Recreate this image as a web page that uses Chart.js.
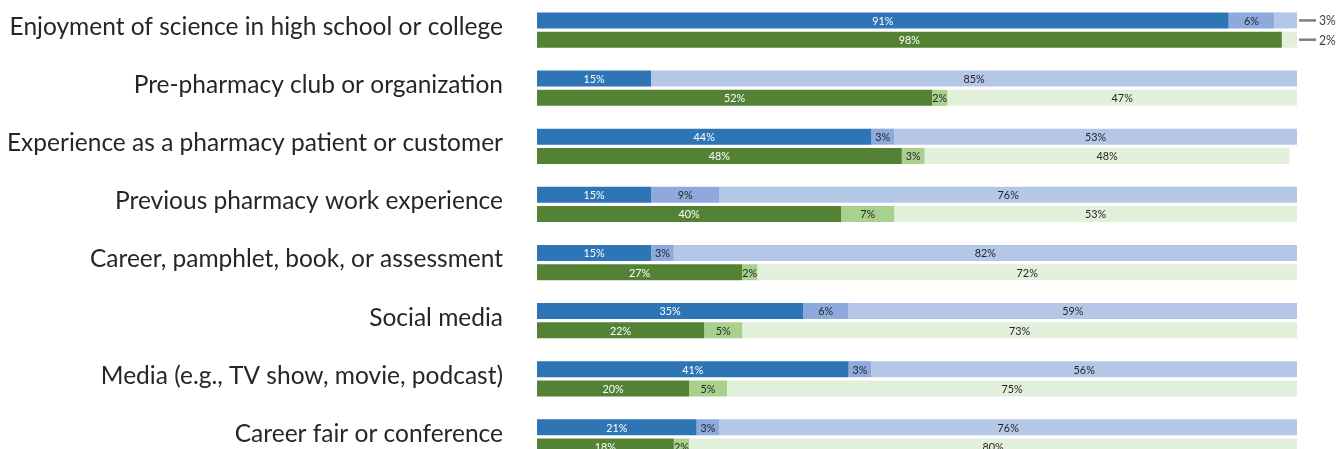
<!DOCTYPE html>
<html>
<head>
<meta charset="utf-8">
<script src="https://cdn.jsdelivr.net/npm/chart.js@4/dist/chart.umd.min.js"></script>
<style>
  html, body { margin: 0; padding: 0; background: #ffffff; overflow: hidden; }
  #wrap { position: relative; width: 1340px; height: 466px; }
</style>
</head>
<body>
<div id="wrap"><canvas id="chart"></canvas></div>
<script>
// Influences on interest in pharmacy, percentage of respondents
const categories = [
  'Enjoyment of science in high school or college',
  'Pre-pharmacy club or organization',
  'Experience as a pharmacy patient or customer',
  'Previous pharmacy work experience',
  'Career, pamphlet, book, or assessment',
  'Social media',
  'Media (e.g., TV show, movie, podcast)',
  'Career fair or conference'
];

// First group (blue bars)
const blueMain = [91, 15, 44, 15, 15, 35, 41, 21];
const blueMid  = [6, 0, 3, 9, 3, 6, 3, 3];
const blueRest = [3, 85, 53, 76, 82, 59, 56, 76];

// Second group (green bars)
const greenMain = [98, 52, 48, 40, 27, 22, 20, 18];
const greenMid  = [0, 2, 3, 7, 2, 5, 5, 2];
const greenRest = [2, 47, 48, 53, 72, 73, 75, 80];

const BLUE = ['#2e75b6', '#8eaadc', '#b4c7e7'];
const GREEN = ['#548235', '#a9d18e', '#e2efda'];

const LABEL_FONT = 'Lato, "Open Sans", sans-serif';

function ds(label, data, color, stack, textColor) {
  return {
    label, data, stack,
    backgroundColor: color,
    borderWidth: 0,
    categoryPercentage: 0.664,
    barPercentage: 0.83,
    textColor
  };
}

// Narrow text: the value labels are drawn slightly condensed.
function narrowText(ctx, txt, x, y, align, squeeze) {
  ctx.save();
  ctx.translate(x, y);
  ctx.scale(squeeze, 1);
  ctx.textAlign = align;
  ctx.fillText(txt, 0, 0);
  ctx.restore();
}

// Draws the percentage inside each segment; a segment too thin to hold its
// text at the end of the bar gets a leader line and an outside label.
const segmentLabels = {
  id: 'segmentLabels',
  afterDatasetsDraw(chart) {
    const ctx = chart.ctx;
    const area = chart.chartArea;
    ctx.save();
    ctx.textBaseline = 'middle';
    chart.data.datasets.forEach((d, di) => {
      const meta = chart.getDatasetMeta(di);
      const isLast = di === 2 || di === 5;
      meta.data.forEach((el, i) => {
        const v = d.data[i];
        if (!v) return;
        const x0 = Math.min(el.base, el.x);
        const x1 = Math.min(Math.max(el.base, el.x), area.right);
        const w = x1 - x0;
        const txt = v + '%';
        if (isLast && w < 30) {
          ctx.strokeStyle = '#7f7f7f';
          ctx.lineWidth = 2.5;
          ctx.beginPath();
          ctx.moveTo(area.right + 2, el.y);
          ctx.lineTo(area.right + 19, el.y);
          ctx.stroke();
          ctx.fillStyle = '#404040';
          ctx.font = '13.5px ' + LABEL_FONT;
          narrowText(ctx, txt, area.right + 22, el.y + 0.5, 'left', 0.9);
          return;
        }
        ctx.fillStyle = d.textColor;
        ctx.font = '12px ' + LABEL_FONT;
        narrowText(ctx, txt, (x0 + x1) / 2, el.y + 0.5, 'center', 0.9);
      });
    });
    ctx.restore();
  }
};

new Chart(document.getElementById('chart'), {
  type: 'bar',
  data: {
    labels: categories,
    datasets: [
      ds('Blue main', blueMain, BLUE[0], 'blue', '#ffffff'),
      ds('Blue mid', blueMid, BLUE[1], 'blue', '#262626'),
      ds('Blue rest', blueRest, BLUE[2], 'blue', '#262626'),
      ds('Green main', greenMain, GREEN[0], 'green', '#ffffff'),
      ds('Green mid', greenMid, GREEN[1], 'green', '#262626'),
      ds('Green rest', greenRest, GREEN[2], 'green', '#262626')
    ]
  },
  options: {
    indexAxis: 'y',
    responsive: true,
    maintainAspectRatio: false,
    animation: false,
    layout: { padding: { top: 1, right: 43, bottom: 0, left: 0 } },
    plugins: {
      legend: { display: false },
      tooltip: { enabled: false }
    },
    scales: {
      x: {
        stacked: true,
        min: 0,
        max: 100,
        display: false
      },
      y: {
        stacked: true,
        grid: { display: false, tickLength: 8 },
        border: { display: false },
        ticks: {
          color: '#262626',
          padding: 26,
          labelOffset: -3,
          font: { family: LABEL_FONT, size: 24.5 }
        },
        afterFit(scale) {
          scale.width = 537;
          scale.paddingTop = 0;
          scale.paddingBottom = 0;
        }
      }
    }
  },
  plugins: [segmentLabels]
});
</script>
</body>
</html>
